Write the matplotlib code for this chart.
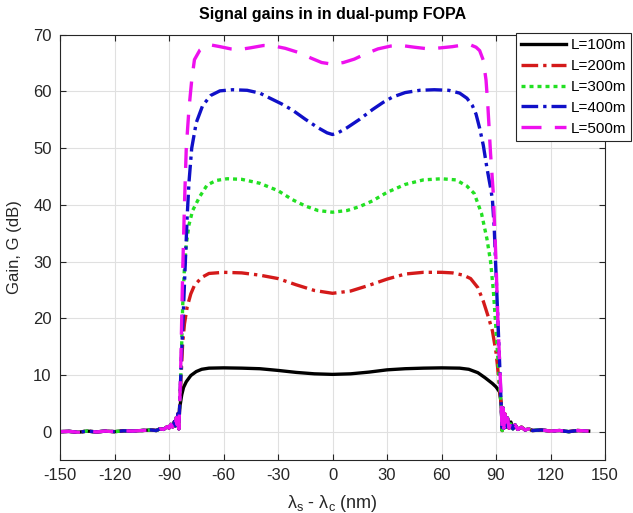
import matplotlib
matplotlib.use("Agg")
import matplotlib.pyplot as plt
import numpy as np

plt.rcParams['font.family'] = ['Liberation Sans', 'DejaVu Sans']
plt.rcParams['mathtext.default'] = 'regular'
plt.rcParams['axes.unicode_minus'] = False

# ---- data ----
labels = ["L=100m", "L=200m", "L=300m", "L=400m", "L=500m"]

# common low-gain tail left of the band
tail_left_x = [-150, -145, -140, -135, -130, -125, -120, -115, -110, -105, -100, -97, -95, -93,
               -91, -90, -89, -88, -87, -86.5, -86, -85.5, -85, -84.6]
tail_left_y = [0.0, 0.05, -0.1, 0.1, -0.05, 0.1, 0.0, 0.15, 0.1, 0.2, 0.3, 0.2, 0.5, 0.4,
               0.9, 0.6, 1.3, 0.8, 1.8, 1.0, 2.5, 1.2, 3.2, 0.5]

# common low-gain tail right of the band
tail_right_x = [93.0, 93.4, 93.8, 94.3, 94.8, 95.5, 96.3, 97.2, 98.2, 99.3, 100.5, 102, 104, 106,
                108, 110, 115, 120, 125, 130, 135, 141]
tail_right_y = [3.5, 0.2, 4.2, 0.6, 3.2, 0.8, 2.4, 0.6, 1.7, 0.5, 1.2, 0.4, 0.8, 0.3,
                0.5, 0.2, 0.3, 0.1, 0.2, 0.0, 0.2, 0.1]

band_x_100 = [-84.2, -83, -82, -80.5, -78, -75, -72, -68, -60, -50, -40, -30, -20, -10, 0,
              10, 20, 30, 40, 50, 60, 70, 75, 80, 84, 88, 90, 92, 92.8]
band_y_100 = [4.0, 6.5, 7.8, 8.8, 9.9, 10.6, 11.0, 11.2, 11.25, 11.2, 11.1, 10.8, 10.45, 10.2, 10.1,
              10.2, 10.5, 10.9, 11.1, 11.2, 11.25, 11.2, 11.0, 10.4, 9.5, 8.5, 7.9, 7.0, 5.0]

band_x_200 = [-84.2, -83.3, -82.5, -81.5, -80, -78, -76, -72, -68, -60, -50, -40, -30, -20, -10, 0,
              10, 20, 30, 40, 50, 60, 66, 72, 76, 80, 83, 86, 88, 90, 91, 92, 92.8]
band_y_200 = [4.0, 10.0, 15.5, 19.0, 22.0, 24.3, 25.8, 27.2, 27.9, 28.1, 28.0, 27.6, 27.0, 25.9, 24.9, 24.4,
              24.8, 25.8, 26.9, 27.8, 28.1, 28.1, 28.0, 27.6, 27.0, 25.4, 23.0, 20.0, 17.8, 14.0, 11.0, 7.5, 5.0]

band_x_300 = [-84.2, -83.3, -82.5, -81.5, -80.5, -79, -77, -73, -69, -64, -58, -50, -40, -30, -22, -15, -8, 0,
              8, 15, 22, 30, 40, 50, 60, 68, 74, 78, 82, 85, 87, 88.5, 90, 91, 92, 92.8]
band_y_300 = [4.0, 12.0, 22.0, 29.0, 33.0, 36.5, 39.0, 41.5, 43.5, 44.3, 44.6, 44.5, 43.8, 42.5, 40.9, 39.8, 39.0, 38.7,
              39.0, 39.7, 40.7, 42.2, 43.6, 44.4, 44.6, 44.4, 43.3, 42.0, 38.5, 34.0, 30.0, 25.0, 18.0, 13.0, 8.0, 5.0]

band_x_400 = [-84.2, -83.3, -82, -81, -80, -79, -77.5, -75, -71.5, -67, -62, -55, -47, -40, -35, -28, -22, -15, -8, -3, 0,
              3, 8, 15, 22, 28, 33, 40, 48, 56, 64, 70, 74, 77, 79, 81, 83, 85, 87, 88, 89, 90, 91, 92, 92.8]
band_y_400 = [4.0, 12.0, 22.0, 30.0, 38.0, 44.0, 50.0, 54.5, 57.5, 59.3, 60.1, 60.3, 60.2, 59.7, 58.9, 57.8, 56.7, 55.1, 53.6, 52.7, 52.4,
              52.7, 53.6, 55.1, 56.8, 58.1, 59.0, 59.8, 60.2, 60.3, 60.2, 59.7, 58.8, 57.5, 56.0, 53.5, 50.5, 46.5, 43.0, 41.0, 36.0, 28.0, 20.0, 12.0, 5.0]

band_x_500 = [-84.2, -83.5, -82.5, -81.5, -80.5, -79, -77.5, -76, -73, -70, -67, -62, -56, -51, -45, -38, -32, -26, -19, -12, -6, 0,
              6, 12, 18, 25, 32, 38, 45, 53, 60, 66, 72, 76, 79, 81, 83, 84.5, 85.5, 87, 88.5, 90, 91, 92, 92.8]
band_y_500 = [4.0, 12.0, 28.0, 40.0, 50.0, 57.0, 62.0, 65.6, 67.3, 68.0, 68.2, 67.9, 67.5, 67.4, 67.7, 68.1, 68.0, 67.6, 66.9, 65.9, 65.1, 64.8,
              65.1, 65.7, 66.6, 67.5, 68.0, 68.1, 67.8, 67.5, 67.7, 67.9, 68.2, 68.2, 67.8, 67.2, 65.5, 62.0, 57.5, 49.0, 42.0, 30.0, 20.0, 12.0, 6.0]

band_xs = [band_x_100, band_x_200, band_x_300, band_x_400, band_x_500]
band_ys = [band_y_100, band_y_200, band_y_300, band_y_400, band_y_500]

x_ticks = [-150, -120, -90, -60, -30, 0, 30, 60, 90, 120, 150]
y_ticks = [0, 10, 20, 30, 40, 50, 60, 70]

# ---- styles ----
colors = ["#000000", "#d41a1a", "#22e022", "#1010c8", "#ee10ee"]
styles = ["-", (0, (5, 1.5, 1, 1.5)), (0, (1.2, 1.2)), (0, (5, 1.5, 1, 1.5)), (0, (6, 4))]

fig = plt.figure(figsize=(6.33, 5.13), dpi=100)
ax = fig.add_axes([0.0948, 0.1033, 0.861, 0.829])

for bx, by, c, ls, lab in zip(band_xs, band_ys, colors, styles, labels):
    xs = list(tail_left_x) + list(bx) + list(tail_right_x)
    ys = list(tail_left_y) + list(by) + list(tail_right_y)
    ax.plot(xs, ys, color=c, linestyle=ls, linewidth=2.4, label=lab)

ax.set_xlim(-150, 150)
ax.set_ylim(-5, 70)
ax.set_xticks(x_ticks)
ax.set_yticks(y_ticks)
ax.grid(True, color="#e0e0e0", linewidth=0.8)
ax.set_axisbelow(True)
ax.tick_params(direction="in", top=True, right=True, labelsize=12, colors="#262626", length=4, pad=6)
for s in ax.spines.values():
    s.set_color("#262626")
    s.set_linewidth(0.8)

ax.set_title("Signal gains in in dual-pump FOPA", fontsize=11.5, fontweight="bold", pad=11)
ax.set_xlabel(r"$\lambda_s$ - $\lambda_c$ (nm)", fontsize=13, color="#262626", labelpad=7)
ax.set_ylabel("Gain, G (dB)", fontsize=12, color="#262626", labelpad=8)

leg = ax.legend(loc="upper right", bbox_to_anchor=(0.997, 0.936), bbox_transform=fig.transFigure,
                borderaxespad=0, fontsize=11, handlelength=2.9, handletextpad=0.3, borderpad=0.35,
                labelspacing=0.45, fancybox=False, framealpha=1, edgecolor="#262626")
leg.get_frame().set_linewidth(0.8)

fig.savefig("out.png", dpi=100)
